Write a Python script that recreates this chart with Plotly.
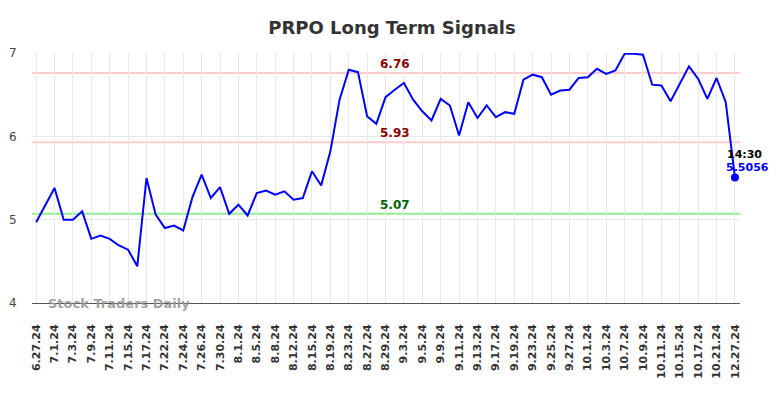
import plotly.graph_objects as go

dates = [
    "6.27.24", "6.28.24", "7.1.24", "7.2.24", "7.3.24", "7.5.24", "7.9.24", "7.10.24",
    "7.11.24", "7.12.24", "7.15.24", "7.16.24", "7.17.24", "7.18.24", "7.22.24", "7.23.24",
    "7.24.24", "7.25.24", "7.26.24", "7.29.24", "7.30.24", "7.31.24", "8.1.24", "8.2.24",
    "8.5.24", "8.6.24", "8.8.24", "8.9.24", "8.12.24", "8.13.24", "8.15.24", "8.16.24",
    "8.19.24", "8.20.24", "8.23.24", "8.26.24", "8.27.24", "8.28.24", "8.29.24", "8.30.24",
    "9.3.24", "9.4.24", "9.5.24", "9.6.24", "9.9.24", "9.10.24", "9.11.24", "9.12.24",
    "9.13.24", "9.16.24", "9.17.24", "9.18.24", "9.19.24", "9.20.24", "9.23.24", "9.24.24",
    "9.25.24", "9.26.24", "9.27.24", "9.30.24", "10.1.24", "10.2.24", "10.3.24", "10.4.24",
    "10.7.24", "10.8.24", "10.9.24", "10.10.24", "10.11.24", "10.14.24", "10.15.24", "10.16.24",
    "10.17.24", "10.18.24", "10.21.24", "10.22.24", "12.27.24",
]

values = [
    4.97, 5.18, 5.38, 5.00, 5.00, 5.10, 4.77, 4.81, 4.77, 4.69,
    4.64, 4.44, 5.50, 5.06, 4.90, 4.93, 4.87, 5.27, 5.54, 5.26,
    5.39, 5.07, 5.18, 5.05, 5.32, 5.35, 5.30, 5.34, 5.24, 5.26,
    5.58, 5.41, 5.82, 6.44, 6.80, 6.77, 6.24, 6.15, 6.47, 6.56,
    6.64, 6.44, 6.30, 6.19, 6.45, 6.37, 6.01, 6.41, 6.22, 6.37,
    6.23, 6.29, 6.27, 6.68, 6.74, 6.71, 6.50, 6.55, 6.56, 6.70,
    6.71, 6.81, 6.75, 6.79, 6.99, 6.99, 6.98, 6.62, 6.61, 6.42,
    6.63, 6.84, 6.69, 6.45, 6.70, 6.41, 5.5056,
]

tick_labels = dates[::2]

resistance_high = 6.76
resistance_low = 5.93
support = 5.07
last_time = "14:30"

fig = go.Figure()

fig.add_trace(go.Scatter(
    x=dates, y=values, mode="lines",
    line=dict(color="#0000ff", width=2),
    hoverinfo="skip", showlegend=False,
))
fig.add_trace(go.Scatter(
    x=[dates[-1]], y=[values[-1]], mode="markers",
    marker=dict(color="#0000ff", size=8),
    hoverinfo="skip", showlegend=False,
))

for lvl, col in [(resistance_high, "#ffcccc"), (resistance_low, "#ffcccc"), (support, "#90ee90")]:
    fig.add_shape(type="line", xref="paper", x0=0, x1=1, yref="y", y0=lvl, y1=lvl,
                  line=dict(color=col, width=2), layer="below")

mid = dates[39]
for lvl, col in [(resistance_high, "#8b0000"), (resistance_low, "#8b0000"), (support, "#006400")]:
    fig.add_annotation(x=mid, y=lvl, text=f"<b>{lvl:.2f}</b>", showarrow=False,
                       yanchor="bottom", yshift=0,
                       font=dict(family="DejaVu Sans", size=12, color=col))

fig.add_annotation(x=dates[-1], y=values[-1], text=f"<b>{last_time}</b>", showarrow=False,
                   xshift=10, yshift=23, font=dict(family="DejaVu Sans", size=11, color="#000000"))
fig.add_annotation(x=dates[-1], y=values[-1], text=f"<b>{values[-1]:.4f}</b>", showarrow=False,
                   xshift=13, yshift=10, font=dict(family="DejaVu Sans", size=11, color="#0000ff"))

fig.add_annotation(xref="paper", yref="paper", x=0.02, y=0, xanchor="left", yanchor="middle",
                   text="<b>Stock Traders Daily</b>", showarrow=False,
                   font=dict(family="DejaVu Sans", size=13, color="rgba(150,150,150,0.9)"))

fig.update_layout(
    width=784, height=398,
    margin=dict(l=32, r=44, t=53, b=95, autoexpand=False),
    paper_bgcolor="white", plot_bgcolor="white",
    title=dict(text="<b>PRPO Long Term Signals</b>", x=0.5, xanchor="center",
               y=0.93, yanchor="middle", yref="container",
               font=dict(family="DejaVu Sans", size=18, color="#333333")),
    font=dict(family="DejaVu Sans"),
)

fig.update_xaxes(
    type="category", range=[-0.45, 76.55], automargin=False,
    tickmode="array", tickvals=tick_labels, ticktext=[f"<b>{t}</b>" for t in tick_labels],
    tickangle=-90, tickfont=dict(family="DejaVu Sans", size=11, color="#333333"),
    showgrid=True, gridcolor="#e8e8e8", gridwidth=1,
    showline=True, linecolor="#555555", linewidth=1,
    ticks="outside", ticklen=16, tickcolor="rgba(0,0,0,0)",
    zeroline=False,
)
fig.update_yaxes(
    range=[4, 7], tickvals=[4, 5, 6, 7], automargin=False,
    tickfont=dict(family="DejaVu Sans", size=12, color="#444444"),
    showgrid=True, gridcolor="#e8e8e8", gridwidth=1,
    ticks="outside", ticklen=12, tickcolor="rgba(0,0,0,0)",
    zeroline=False, showline=False,
)

fig.write_html("out.html", config={"displayModeBar": False},
               post_script="document.body.style.margin='0';document.body.style.overflow='hidden';")
